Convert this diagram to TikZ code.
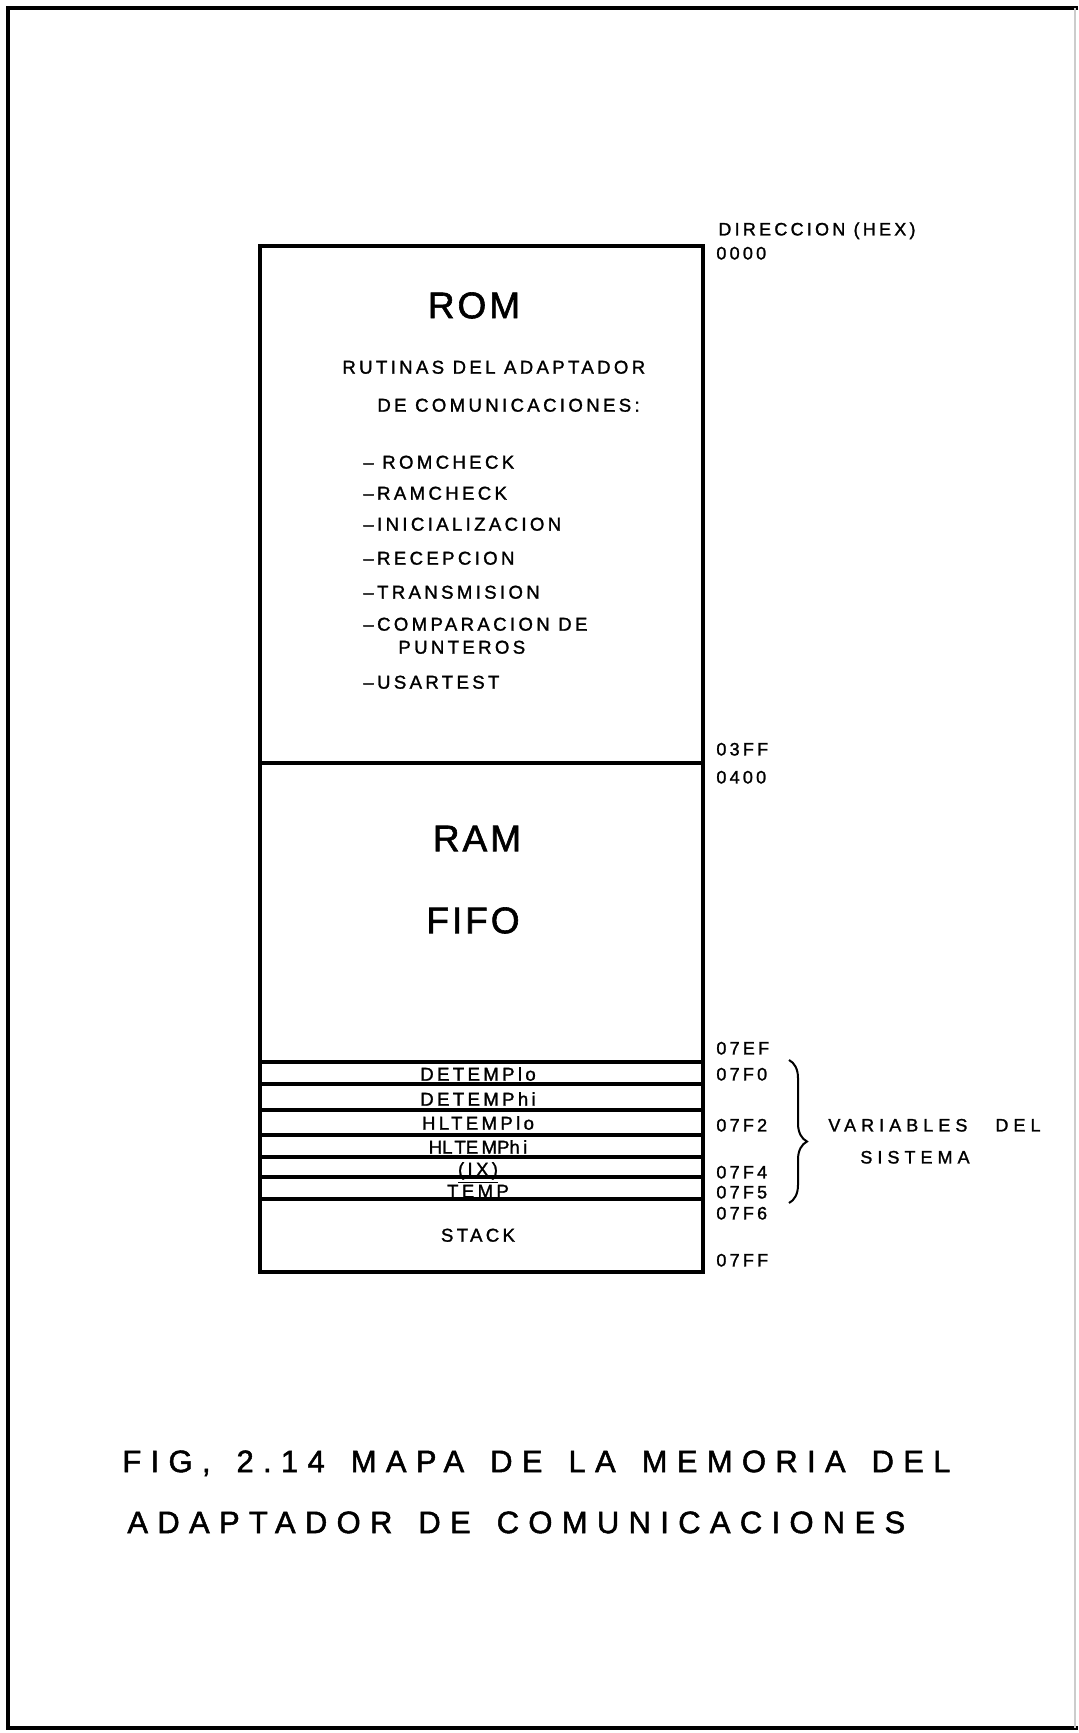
\documentclass[tikz,border=0pt]{standalone}
\usepackage{fontspec}
\newfontfamily\lett[LetterSpace=18, FakeBold=1.4]{Liberation Sans}
\newfontfamily\lettbig[LetterSpace=8, FakeBold=1.6]{Liberation Sans}
\newfontfamily\lettcap[LetterSpace=30, WordSpace=1.45, FakeBold=1.6]{Liberation Sans}
\usetikzlibrary{decorations.pathreplacing}

\begin{document}
\begin{tikzpicture}[x=0.5pt, y=-0.5pt,
  txt/.style={inner sep=0pt, text height=6.66pt, text depth=0pt,
              font=\lett\fontsize{9.3}{11}\selectfont},
  rut/.style={txt, anchor=west},
  addr/.style={inner sep=0pt, text height=6.44pt, text depth=0pt, anchor=west,
               font=\lett\fontsize{9}{11}\selectfont},
  big/.style={inner sep=0pt, text height=13.2pt, text depth=0pt,
              font=\lettbig\fontsize{18.5}{22}\selectfont},
  capt/.style={inner sep=0pt, text height=11.1pt, text depth=0pt, anchor=west,
               font=\lettcap\fontsize{15.5}{18}\selectfont},
  edge/.style={line width=1.6pt},
  frame/.style={line width=1.8pt},
]
\useasboundingbox (0,0) rectangle (1078,1733);

% outer frame
\draw[frame] (1078,8) -- (8,8) -- (8,1728) -- (1078,1728);
\draw[gray!40, line width=0.6pt] (1075,8) -- (1075,1728);

% memory map
\draw[edge] (260,246) rectangle (703,1272);
\draw[edge] (260,763) -- (703,763);
\foreach \y in {1062,1084,1110,1135,1157,1177,1199}{ \draw[edge] (260,\y) -- (703,\y); }

% ROM area
\node[big] (rom) at (474,305) {ROM};
\node[rut] (rut1) at (342,367) {RUTINAS DEL ADAPTADOR};
\node[rut] (rut2) at (377,405) {DE COMUNICACIONES:};
\foreach \t/\y [count=\i] in {{– ROMCHECK}/462, –RAMCHECK/493, –INICIALIZACION/524,
    –RECEPCION/558, –TRANSMISION/592, {–COMPARACION DE}/624, –USARTEST/682}{
  \node[rut] (item\i) at (363,\y) {\t};
}
\node[rut] (item6b) at (398,647) {PUNTEROS};

% RAM area
\node[big] (ram) at (477,838) {RAM};
\node[big] (fifo) at (473,920) {FIFO};

% variables and stack
\foreach \v/\y [count=\i] in {DETEMPlo/1074, DETEMPhi/1099, HLTEMPlo/1123,
    {H\underline{LT}EM\underline{P}hi}/1147, {\underline{(IX)}}/1169, {\underline{TEMP}}/1191}{
  \node[txt] (var\i) at (478,\y) {\v};
}
\node[txt] (stack) at (478,1235) {STACK};

% addresses
\node[addr] (dir) at (718,229) {DIRECCION (HEX)};
\foreach \a/\y [count=\i] in {0000/253, 03FF/749, 0400/777, 07EF/1048, 07F0/1074,
    07F2/1125, 07F4/1172, 07F5/1192, 07F6/1213, 07FF/1260}{
  \node[addr] (ad\i) at (716,\y) {\a};
}

% brace
\draw[line width=1pt, decorate, decoration={brace, amplitude=9pt, aspect=0.57}]
  (789,1060) -- (789,1203);
\node[addr] (sys1) at (828,1125) {\addfontfeatures{LetterSpace=28}VARIABLES\hspace{9pt} DEL};
\node[addr, anchor=center] (sys2) at (915,1157) {\addfontfeatures{LetterSpace=28}SISTEMA};

% caption
\node[capt] (cap1) at (122,1461) {FIG, 2.14 MAPA DE LA MEMORIA DEL};
\node[capt] (cap2) at (127,1522) {ADAPTADOR DE COMUNICACIONES};
\end{tikzpicture}
\end{document}
